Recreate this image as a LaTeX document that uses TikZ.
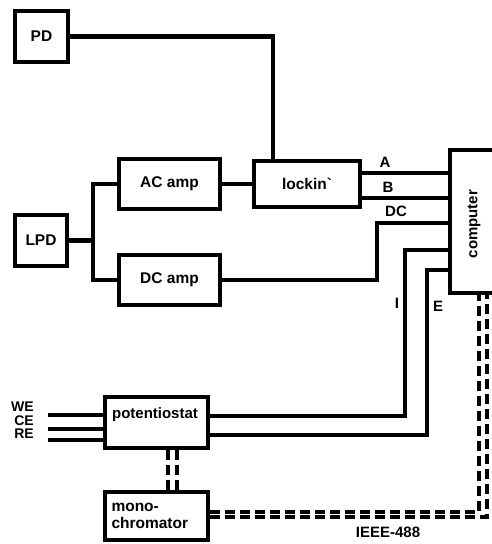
\documentclass[tikz,border=0pt]{standalone}
\usepackage{fontspec}
\setmainfont{Liberation Sans}
\begin{document}
\begin{tikzpicture}[x=1pt,y=-1pt,
  box/.style={draw,line width=4.5pt,rectangle,inner sep=0pt,font=\fontsize{15.5}{17}\selectfont\bfseries},
  wire/.style={line width=4.5pt},
  bus/.style={line width=3.2pt,dash pattern=on 10pt off 5pt},
  lab/.style={font=\fontsize{15}{16}\selectfont\bfseries,inner sep=0pt}]
\useasboundingbox (0,0) rectangle (491,544);
% boxes
\node[box,minimum width=53pt,minimum height=51pt] (PD) at (41.5,36.5) {PD};
\node[box,minimum width=52pt,minimum height=51pt] (LPD) at (41,240.5) {LPD};
\node[box,minimum width=101pt,minimum height=50pt] (AC) at (169.5,184) {AC amp};
\node[box,minimum width=101pt,minimum height=50pt] (DCa) at (169.5,280) {DC amp};
\node[box,minimum width=106pt,minimum height=46pt] (lockin) at (307,184) {lockin\textasciigrave};
\node[box,minimum width=80pt,minimum height=143pt] (comp) at (490,221.5) {};
\node[lab,rotate=90] (comptext) at (474,224) {computer};
\node[box,minimum width=103pt,minimum height=51pt] (pot) at (156.5,422.5) {};
\node[lab] (pottext) at (155,415) {potentiostat};
\node[box,minimum width=103pt,minimum height=48pt,align=left,text width=90pt] (mono) at (156.5,516) {mono-\\chromator};
% PD to lockin
\coordinate (pdb) at (273,36.5);
\draw[wire] (PD.east) -- (pdb) -- (pdb |- lockin.north);
% LPD branches
\coordinate (jn) at (93,240.5);
\draw[wire] (LPD.east) -- (jn);
\draw[wire] (AC.west) -| (jn) |- (DCa.west);
\draw[wire] (AC.east) -- (lockin.west);
% lockin to computer
\coordinate (ya) at ([yshift=11pt]lockin.east);
\coordinate (yb) at ([yshift=-14pt]lockin.east);
\draw[wire] (ya) -- (ya -| comp.west);
\draw[wire] (yb) -- (yb -| comp.west);
\node[lab] (lA) at (385,162) {A};
\node[lab] (lB) at (388,187) {B};
\node[lab] (lDC) at (396,211) {DC};
% DC amp to computer
\coordinate (dcb) at (377,280);
\coordinate (dct) at (377,223);
\draw[wire] (DCa.east) -- (dcb) -- (dct) -- (dct -| comp.west);
% potentiostat I and E
\coordinate (pi) at ([yshift=6.5pt]pot.east);
\coordinate (pe) at ([yshift=-12.5pt]pot.east);
\coordinate (ib) at (405,416);
\coordinate (it) at (405,250);
\coordinate (eb) at (427,435);
\coordinate (et) at (427,270);
\draw[wire] (pi) -- (ib) -- (it) -- (it -| comp.west);
\draw[wire] (pe) -- (eb) -- (et) -- (et -| comp.west);
\node[lab] (lI) at (397,303) {I};
\node[lab] (lE) at (438,306) {E};
% electrode leads
\coordinate (we) at ([yshift=7.5pt]pot.west);
\coordinate (ce) at ([yshift=-6.5pt]pot.west);
\coordinate (re) at ([yshift=-17.5pt]pot.west);
\draw[wire] (we) -- (we -| 48,0);
\draw[wire] (ce) -- (ce -| 48,0);
\draw[wire] (re) -- (re -| 48,0);
\node[lab,anchor=east,font=\fontsize{14}{14}\selectfont\bfseries] (lWE) at (34,407) {WE};
\node[lab,anchor=east,font=\fontsize{14}{14}\selectfont\bfseries] (lCE) at (34,421) {CE};
\node[lab,anchor=east,font=\fontsize{14}{14}\selectfont\bfseries] (lRE) at (34,434) {RE};
% potentiostat to monochromator
\coordinate (pm1) at ([xshift=11.5pt]pot.south);
\coordinate (pm2) at ([xshift=20.5pt]pot.south);
\draw[bus] (pm1) -- (pm1 |- mono.north);
\draw[bus] (pm2) -- (pm2 |- mono.north);
% IEEE-488 bus
\coordinate (m1) at ([yshift=4pt]mono.east);
\coordinate (m2) at ([yshift=-1pt]mono.east);
\coordinate (c1) at (479,512);
\coordinate (c2) at (487,517);
\draw[bus] (m1) -- (c1) -- (c1 |- comp.south);
\draw[bus] (m2) -- (c2) -- (c2 |- comp.south);
\node[lab] (lIEEE) at (388,532) {IEEE-488};
\end{tikzpicture}
\end{document}
